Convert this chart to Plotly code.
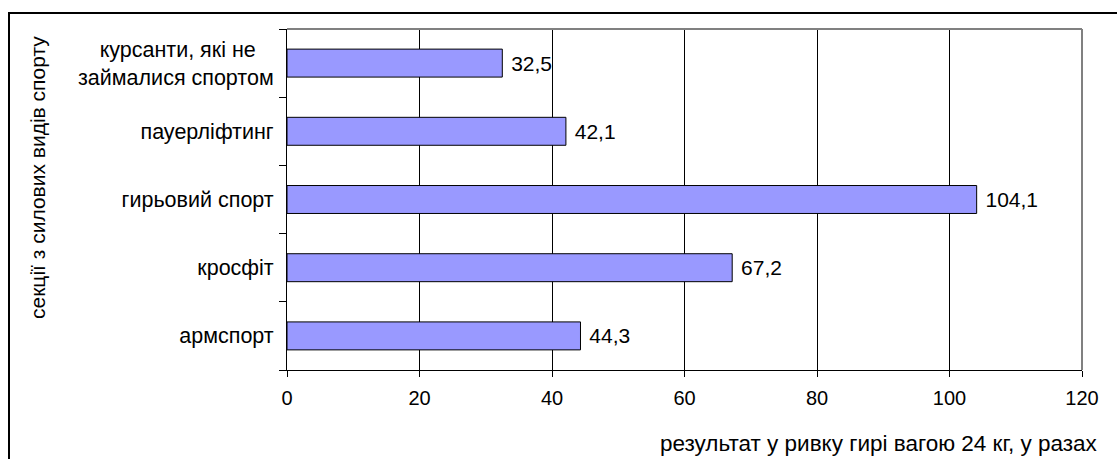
import plotly.graph_objects as go

categories = ["армспорт", "кросфіт", "гирьовий спорт", "пауерліфтинг",
              "курсанти, які не займалися спортом"]
values = [44.3, 67.2, 104.1, 42.1, 32.5]
x_ticks = [0, 20, 40, 60, 80, 100, 120]
x_title = "результат у ривку гирі вагою 24 кг, у разах"
y_title = "секції з силових видів спорту"

W, H = 1117, 459
L, R, T, B = 287, 35, 29, 89
pw, ph = W - L - R, H - T - B

def px_to_paper_x(px):
    return (px - L) / pw

def px_to_paper_y(py):
    return (H - B - py) / ph

# two-line category label; trailing no-break spaces centre the shorter
# first line over the second (tick labels are right-anchored)
NBSP = "\u00a0"
tick_text = categories[:4] + ["курсанти, які не" + NBSP * 3 + "<br>займалися спортом"]

font = "Liberation Sans, Arial, sans-serif"

fig = go.Figure(go.Bar(
    x=values, y=categories, orientation="h",
    marker=dict(color="#9999FF", line=dict(color="black", width=1)),
    width=0.41,
    text=[NBSP + f"{v:.1f}".replace(".", ",") for v in values],
    textposition="outside", cliponaxis=False,
    textfont=dict(family=font, size=21, color="black"),
))

fig.update_layout(
    width=W, height=H,
    margin=dict(l=L, r=R, t=T, b=B, pad=0),
    paper_bgcolor="white", plot_bgcolor="white",
    showlegend=False,
    font=dict(family=font, size=20, color="black"),
)
fig.update_xaxes(
    range=[0, 120], tickvals=x_ticks, ticks="outside", ticklen=6,
    tickcolor="black", showgrid=True, gridcolor="black", gridwidth=1,
    showline=True, linecolor="black", linewidth=1, zeroline=False,
    tickfont=dict(size=20), ticklabelstandoff=4,
)
fig.update_yaxes(
    categoryorder="array", categoryarray=categories,
    tickmode="array", tickvals=categories, ticktext=tick_text,
    ticks="outside", ticklen=7, tickcolor="black", tickson="boundaries",
    showline=True, linecolor="black", linewidth=1, showgrid=False,
    tickfont=dict(size=21.5), range=[-0.5, 4.5], ticklabelstandoff=8,
)

# gray frame on the top and right of the plot area
fig.add_shape(type="line", xref="paper", yref="paper", x0=0, x1=1, y0=1, y1=1,
              line=dict(color="#808080", width=2))
fig.add_shape(type="line", xref="paper", yref="paper", x0=1, x1=1, y0=0, y1=1,
              line=dict(color="#808080", width=2))

# outer chart border
fig.add_shape(type="rect", xref="paper", yref="paper",
              x0=px_to_paper_x(9), x1=px_to_paper_x(1125),
              y0=px_to_paper_y(470), y1=px_to_paper_y(13),
              line=dict(color="black", width=2), fillcolor="rgba(0,0,0,0)")

fig.add_annotation(text=y_title, textangle=-90, xref="paper", yref="paper",
                   x=px_to_paper_x(38), y=px_to_paper_y(178),
                   xanchor="center", yanchor="middle",
                   showarrow=False, font=dict(size=21))
fig.add_annotation(text=x_title, xref="paper", yref="paper",
                   x=px_to_paper_x(1100), y=px_to_paper_y(443),
                   xanchor="right", yanchor="middle",
                   showarrow=False, font=dict(size=22.5))

fig.write_html("out.html")
